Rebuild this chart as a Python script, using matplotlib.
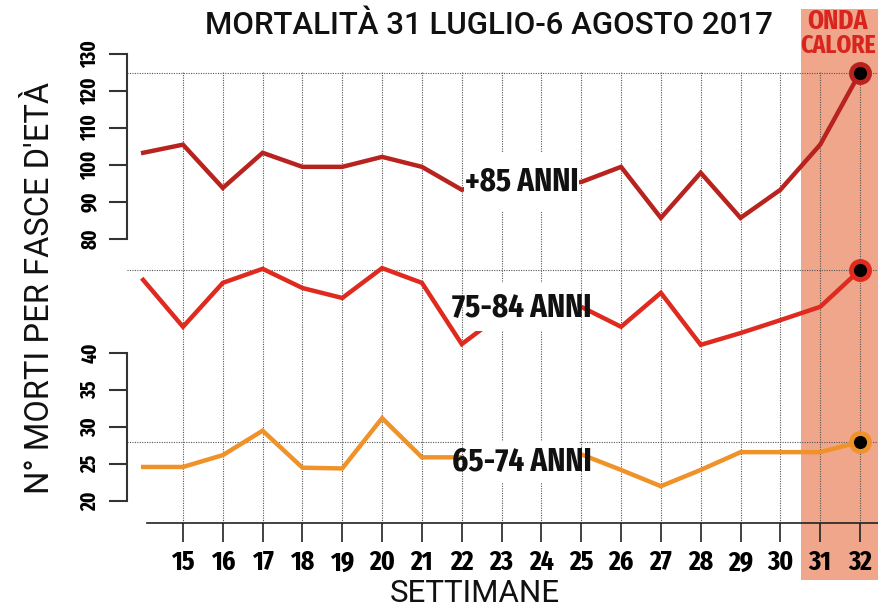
import numpy as np
import matplotlib
matplotlib.use("Agg")
import matplotlib.pyplot as plt
from matplotlib.patches import Rectangle
from matplotlib import font_manager as fm

# data (weeks 14..32)
weeks = list(range(14, 33))
over85 = [103.3, 105.5, 93.8, 103.3, 99.5, 99.5, 102.2, 99.5, 93.3, 96.0, 95.0,
          95.4, 99.5, 85.7, 97.9, 85.7, 93.3, 105.5, 125.0]
age75_84 = [72.3, 59.6, 71.5, 75.3, 70.1, 67.4, 75.5, 71.5, 54.9, 63.0, 64.0,
            65.0, 59.6, 68.8, 54.7, 57.9, 61.4, 65.0, 75.0]
age65_74 = [24.6, 24.6, 26.2, 29.5, 24.5, 24.4, 31.2, 25.9, 25.9, 26.0, 26.1,
            26.3, 24.2, 22.0, 24.2, 26.6, 26.6, 26.6, 28.0]
week_labels = [str(w) for w in range(15, 33)]
upper_ticks = [80, 90, 100, 110, 120, 130]
lower_ticks = [20, 25, 30, 35, 40]

W, H = 879, 611
PLAIN = ['Roboto', 'DejaVu Sans']


# look for any installed condensed / narrow bold face
def find_condensed():
    best = None
    for f in fm.fontManager.ttflist:
        name = (f.fname.split('/')[-1] + ' ' + f.name).lower()
        narrow = ('condensed' in name or 'narrow' in name or 'cond' in name
                  or f.stretch in ('condensed', 'extra-condensed', 'semi-condensed'))
        if not narrow or 'italic' in name or 'oblique' in name:
            continue
        w = f.weight if isinstance(f.weight, int) else 700 if 'bold' in str(f.weight) else 400
        score = -abs(w - 700)
        if 'extracondensed' in name or 'extra-condensed' in name:
            score += 50
        if best is None or score > best[0]:
            best = (score, f.fname)
    return best[1] if best else None


cond_file = find_condensed()
if cond_file:
    def CF(size):
        return fm.FontProperties(fname=cond_file, size=size)
else:
    def CF(size):
        return fm.FontProperties(family='DejaVu Sans', weight='bold', size=size * 0.8)

c85 = '#b8221f'
c75 = '#df2a1f'
c65 = '#f0922a'
grid_c = '#555555'

fig = plt.figure(figsize=(W / 100, H / 100), dpi=100)


def px_axes(left, top, right, bottom):
    return fig.add_axes([left / W, 1 - bottom / H, (right - left) / W, (bottom - top) / H])


xlim = (13.594, 32.477)

# base axes: week axis, grid and heat-wave band
ax = px_axes(127, 72, 879, 523)
ax.set_xlim(xlim)
ax.set_ylim(0, 1)
for s in ['left', 'right', 'top']:
    ax.spines[s].set_visible(False)
ax.spines['bottom'].set_bounds(14.1, xlim[1])
ax.spines['bottom'].set_color('#222222')
ax.spines['bottom'].set_linewidth(1.2)
ax.set_yticks([])
ax.set_xticks(range(15, 33))
ax.set_xticklabels(week_labels, fontproperties=CF(20))
ax.tick_params(axis='x', length=14, width=1.2, color='#222222', pad=5)
for w in range(15, 33):
    ax.axvline(w, color=grid_c, lw=0.8, ls=(0, (1, 1.2)), zorder=1)
ax.axvspan(30.52, xlim[1] + 1, ymin=-0.126, ymax=1.14, color='#efa68a',
           clip_on=False, zorder=0, lw=0)
ax.set_facecolor('none')


def series_axes(top, bottom, ylim, values, color, hline, label, label_y, box_h, ticks=None):
    a = px_axes(127, top, 879, bottom)
    a.set_xlim(xlim)
    a.set_ylim(ylim)
    a.set_facecolor('none')
    for s in ['right', 'top', 'bottom']:
        a.spines[s].set_visible(False)
    a.set_xticks([])
    if ticks is None:
        a.spines['left'].set_visible(False)
        a.set_yticks([])
    else:
        a.spines['left'].set_bounds(ticks[0], ticks[-1])
        a.spines['left'].set_color('#333333')
        a.spines['left'].set_linewidth(1.5)
        a.set_yticks(ticks)
        a.set_yticklabels([str(t) for t in ticks], fontproperties=CF(15),
                          rotation=90, va='center')
        a.tick_params(axis='y', length=13, width=1.5, color='#333333', pad=6)
    a.axhline(hline, color=grid_c, lw=0.8, ls=(0, (1, 1.2)), zorder=1)
    a.plot(weeks, values, color=color, lw=3.2, solid_joinstyle='miter', zorder=3)
    a.plot(weeks[-1], values[-1], 'o', ms=13, mfc='black', mec=color, mew=3.5,
           zorder=5, clip_on=False)
    # white box behind the series label
    upp = (ylim[1] - ylim[0]) / (bottom - top)
    a.add_patch(Rectangle((22.05, label_y - box_h * upp), 2.9, 2 * box_h * upp,
                          facecolor='white', edgecolor='none', zorder=4))
    a.text(23.51, label_y, label, fontproperties=CF(24),
           ha='center', va='center', color='#111111', zorder=6)
    return a


series_axes(54, 239, (80, 130), over85, c85, 125, '+85 ANNI', 95.4, 30, upper_ticks)
series_axes(250, 360, (50.6, 80.4), age75_84, c75, 75, '75-84 ANNI', 65.0, 24)
series_axes(353, 501, (20, 40), age65_74, c65, 28, '65-74 ANNI', 25.3, 21, lower_ticks)

fig.text(489 / W, 1 - 25 / H, 'MORTALITÀ 31 LUGLIO-6 AGOSTO 2017', family=PLAIN,
         fontweight='medium', fontsize=22.5, ha='center', va='center', color='#111111')
fig.text(40 / W, 1 - 288 / H, "N° MORTI PER FASCE D'ETÀ", family=PLAIN,
         fontsize=23.5, rotation=90, ha='center', va='center', color='#111111')
fig.text(475 / W, 1 - 602 / H, 'SETTIMANE', family=PLAIN, fontsize=22.5,
         ha='center', va='baseline', color='#111111')
fig.text(838 / W, 1 - 21 / H, 'ONDA', fontproperties=CF(20),
         ha='center', va='center', color='#d8261f')
fig.text(838 / W, 1 - 46 / H, 'CALORE', fontproperties=CF(18.5),
         ha='center', va='center', color='#d8261f')

fig.savefig('out.png', dpi=100)
